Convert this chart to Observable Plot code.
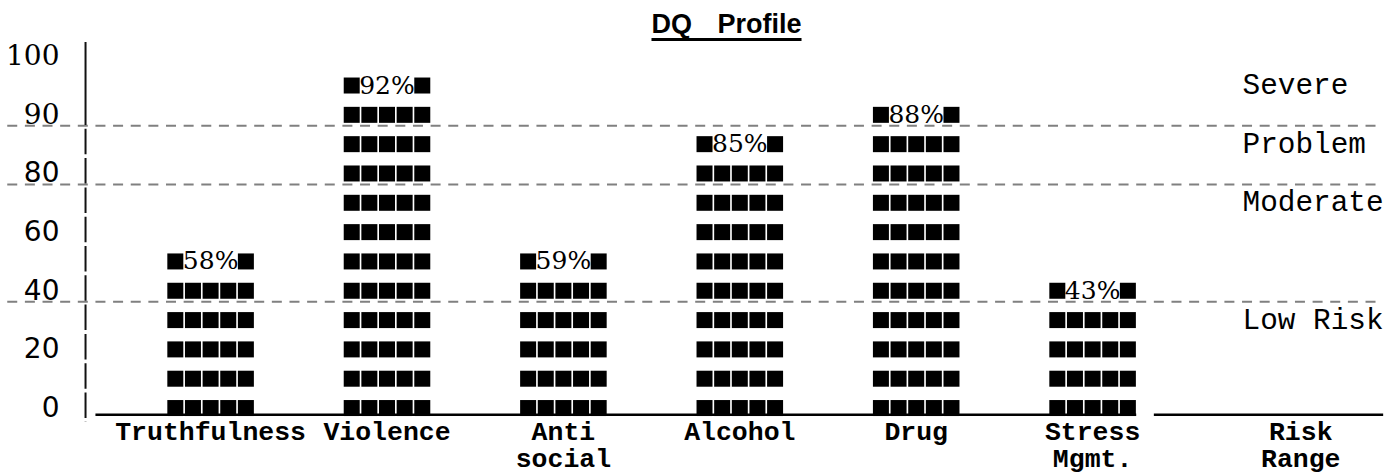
<!DOCTYPE html>
<html><head><meta charset="utf-8">
<script src="https://cdn.jsdelivr.net/npm/d3@7"></script>
<script src="https://cdn.jsdelivr.net/npm/@observablehq/plot@0.6"></script>
<style>
html,body{margin:0;padding:0;background:#fff;overflow:hidden;}
#title{height:36px;box-sizing:border-box;padding-top:11px;padding-left:56px;text-align:center;overflow:visible;
  font:bold 27px "Liberation Sans",Arial,sans-serif;line-height:27px;word-spacing:18px;color:#000;position:relative;z-index:1;}
#title span{text-decoration:underline;text-decoration-thickness:3px;text-underline-offset:5px;}
</style></head><body>
<div id="title"><span>DQ Profile</span></div>
<div id="chart"></div>
<script>
// ---- data ----
const categories = ["Truthfulness", "Violence", "Anti\nsocial", "Alcohol", "Drug", "Stress\nMgmt."];
const percents   = [58, 92, 59, 85, 88, 43];
const blockRows  = [5, 11, 5, 9, 10, 4];          // full rows of ■■■■■ under each label
const yTicks     = [100, 90, 80, 60, 40, 20, 0];
const riskLevels = ["Severe", "Problem", "Moderate", "Low Risk"];
const riskUpper  = [100, 90, 80, 40];             // upper bound of each risk band
const riskRangeLabel = "Risk\nRange";

// ---- layout (character grid of the original text printout) ----
const CHAR_W = 17.64, COL0 = 166;       // px of column 0
const ROW_H = 29.32, ROW_TOP = 19.7;    // px of the top row (value 100) inside the svg
const STEP = 10, BAR_COLS = 5;
const AXIS_COL = -4.59, LEFT_COL = -9, RIGHT_COL = 69, BASE_START = -4;
const RISK_COL = 61, RISK_CENTER = 64.3;

// piecewise axis: 10 units per row up to 80, 5 units per row above
const rowOf = v => v <= 80 ? v / 10 : 8 + (v - 80) / 5;
const valueOfRow = k => k <= 8 ? k * 10 : 80 + (k - 8) * 5;

const blocks = [];
categories.forEach((c, i) => {
  for (let k = 0; k < blockRows[i]; k++)
    for (let j = 0; j < BAR_COLS; j++) blocks.push({x: i * STEP + j + 0.5, y: valueOfRow(k)});
  for (const j of [0, BAR_COLS - 1]) blocks.push({x: i * STEP + j + 0.5, y: valueOfRow(blockRows[i])});
});
const pctLabels = categories.map((c, i) => ({x: i * STEP + BAR_COLS / 2, y: valueOfRow(blockRows[i]), text: percents[i] + "%"}));
const lastBarEnd = (categories.length - 1) * STEP + BAR_COLS;
const baseSegs = [{x1: BASE_START, x2: lastBarEnd}, {x1: lastBarEnd + 1, x2: RIGHT_COL}];
const axisDash = "83 3.8 " + Array(10).fill("25.5 3.8").join(" ");

const H = 439;
const chart = Plot.plot({
  width: 1397, height: H,
  marginLeft: 85, marginRight: 0, marginTop: 6, marginBottom: 53,
  style: {background: "#fff", color: "#000", overflow: "visible"},
  x: {type: "linear", domain: [0, 1], range: [COL0, COL0 + CHAR_W], axis: null},
  y: {type: "linear", domain: [0, 80, 100], range: [ROW_TOP + 12 * ROW_H, ROW_TOP + 4 * ROW_H, ROW_TOP], axis: null},
  marks: [
    Plot.ruleY(riskUpper.slice(1), {y: d => d, x1: LEFT_COL, x2: RIGHT_COL, dy: 11,
      stroke: "#808080", strokeWidth: 2, strokeDasharray: "10,7.64"}),
    Plot.ruleX([AXIS_COL], {x: d => d, stroke: "#111", strokeWidth: 2, strokeDasharray: axisDash}),
    Plot.ruleY(baseSegs, {y: 0, x1: "x1", x2: "x2", dy: 6.7, stroke: "#000", strokeWidth: 2.5}),
    Plot.dot(blocks, {x: "x", y: "y", symbol: "square", r: 16 / Math.sqrt(Math.PI), fill: "#000", stroke: "none"}),
    Plot.text(pctLabels, {x: "x", y: "y", text: "text", fontFamily: "DejaVu Serif", fontSize: 25, lineAnchor: "middle", fill: "#000"}),
    Plot.axisY(yTicks.filter(t => t >= 90), {ticks: yTicks.filter(t => t >= 90), tickSize: 0, tickPadding: 26, fontSize: 28, fontFamily: "DejaVu Serif", label: null}),
    Plot.axisY(yTicks.filter(t => t < 90), {ticks: yTicks.filter(t => t < 90), tickSize: 0, tickPadding: 26, fontSize: 28, fontFamily: "DejaVu Sans", label: null}),
    Plot.text(categories, {x: (d, i) => i * STEP + BAR_COLS / 2, y: 0, text: d => d, lineAnchor: "top", dy: 13.5,
      fontFamily: "Liberation Mono", fontWeight: "bold", fontSize: 26.5, lineHeight: 1.0, fill: "#000"}),
    Plot.text([riskRangeLabel], {x: RISK_CENTER, y: 0, text: d => d, lineAnchor: "top", dy: 13.5,
      fontFamily: "Liberation Mono", fontWeight: "bold", fontSize: 26.5, lineHeight: 1.0, fill: "#000"}),
    Plot.text(riskLevels, {x: RISK_COL, y: (d, i) => valueOfRow(rowOf(riskUpper[i]) - 1), text: d => d,
      textAnchor: "start", lineAnchor: "middle", dy: -1, fontFamily: "Liberation Mono", fontSize: 29.4, fill: "#000"})
  ]
});
document.getElementById("chart").appendChild(chart);
</script>
</body></html>
